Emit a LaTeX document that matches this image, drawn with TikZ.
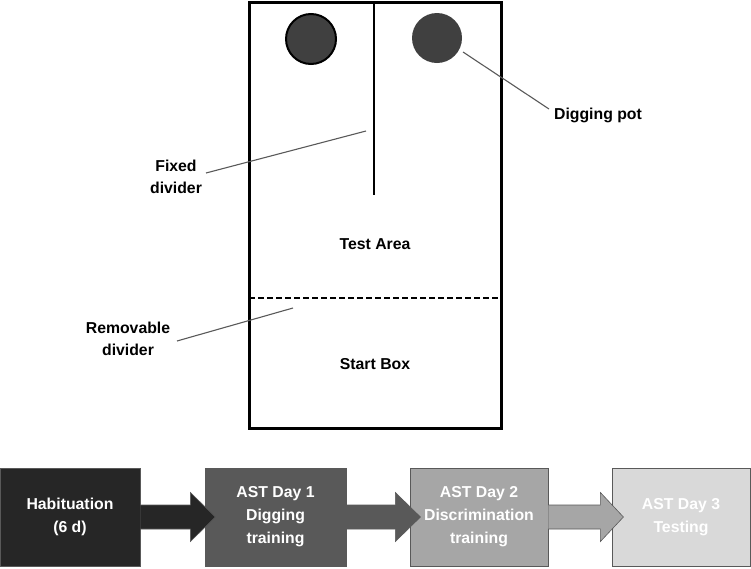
\documentclass[tikz,border=0pt]{standalone}
\usepackage{fontspec}
\setmainfont{Liberation Sans}
\usetikzlibrary{calc}
\definecolor{potgray}{HTML}{404040}
\definecolor{cA}{HTML}{262626}
\definecolor{cB}{HTML}{595959}
\definecolor{cC}{HTML}{A6A6A6}
\definecolor{cD}{HTML}{D9D9D9}
\definecolor{leader}{HTML}{595959}
\tikzset{
  lbl/.style={font=\fontsize{15.8}{21.5}\selectfont\bfseries, align=center, inner sep=0pt},
  stage/.style={minimum height=98pt, inner sep=0pt, align=center, text=white,
    font=\fontsize{15.8}{23}\selectfont\bfseries, draw=gray!70!black, line width=0.8pt},
  pot/.style={circle, fill=potgray, minimum size=50pt, inner sep=0pt},
  leaderline/.style={draw=leader, line width=1.1pt},
  blockarrow/.style={draw=gray!70!black, line width=0.6pt}
}
\begin{document}
\begin{tikzpicture}[x=1pt, y=-1pt]
\useasboundingbox (0,0) rectangle (751,568);
% arena
\draw[line width=3pt] (249,2) rectangle (501,428);
\coordinate (divtop) at (374,2);
\coordinate (divbot) at (374,195);
\draw[line width=2pt] (divtop) -- (divbot);
\coordinate (dashL) at (249,298);
\coordinate (dashR) at (501,298);
\draw[line width=1.8pt, dash pattern=on 6pt off 3pt] (dashL) -- (dashR);
\node[pot, draw=black, line width=2pt] (potL) at (311,39) {};
\node[pot] (potR) at (437,38) {};
% labels
\node[lbl] (dig) at (598,115) {Digging pot};
\node[lbl] (fixed) at (176,177) {Fixed\\divider};
\node[lbl] (remov) at (128,339) {Removable\\divider};
\node[lbl] (test) at (375,244) {Test Area};
\node[lbl] (start) at (375,364) {Start Box};
\coordinate (digend) at (463,52);
\coordinate (digstart) at (549,109);
\draw[leaderline] (digstart) -- (digend);
\coordinate (fixA) at (206,173);
\coordinate (fixB) at (366,131);
\draw[leaderline] (fixA) -- (fixB);
\coordinate (remA) at (177,341);
\coordinate (remB) at (293,308);
\draw[leaderline] (remA) -- (remB);
% stages
\node[stage, fill=cA, minimum width=140pt] (s1) at (70,517) {Habituation\\(6 d)};
\node[stage, fill=cB, minimum width=141pt] (s2) at (275.5,517) {AST Day 1\\Digging\\training};
\node[stage, fill=cC, minimum width=138pt] (s3) at (479,517) {AST Day 2\\Discrimination\\training};
\node[stage, fill=cD, minimum width=138pt] (s4) at (681,517) {AST Day 3\\Testing};
% block arrows
\fill[cA] ($(s1.east)+(0,-12)$) -- ++(50,0) -- ++(0,-12.5) -- ($(s1.east)+(75,0)$) -- ($(s1.east)+(50,24.5)$) -- ++(0,-12.5) -- ($(s1.east)+(0,12)$) -- cycle;
\draw[blockarrow] ($(s1.east)+(0,-12)$) -- ++(50,0) -- ++(0,-12.5) -- ($(s1.east)+(75,0)$) -- ($(s1.east)+(50,24.5)$) -- ++(0,-12.5) -- ($(s1.east)+(0,12)$);
\fill[cB] ($(s2.east)+(0,-12)$) -- ++(49,0) -- ++(0,-12.5) -- ($(s2.east)+(74,0)$) -- ($(s2.east)+(49,24.5)$) -- ++(0,-12.5) -- ($(s2.east)+(0,12)$) -- cycle;
\draw[blockarrow] ($(s2.east)+(0,-12)$) -- ++(49,0) -- ++(0,-12.5) -- ($(s2.east)+(74,0)$) -- ($(s2.east)+(49,24.5)$) -- ++(0,-12.5) -- ($(s2.east)+(0,12)$);
\fill[cC] ($(s3.east)+(0,-12)$) -- ++(52,0) -- ++(0,-12.5) -- ($(s3.east)+(75,0)$) -- ($(s3.east)+(52,24.5)$) -- ++(0,-12.5) -- ($(s3.east)+(0,12)$) -- cycle;
\draw[blockarrow] ($(s3.east)+(0,-12)$) -- ++(52,0) -- ++(0,-12.5) -- ($(s3.east)+(75,0)$) -- ($(s3.east)+(52,24.5)$) -- ++(0,-12.5) -- ($(s3.east)+(0,12)$);
\end{tikzpicture}
\end{document}
